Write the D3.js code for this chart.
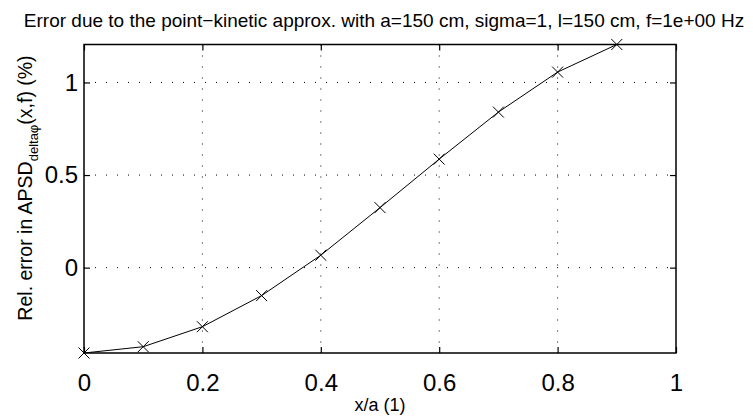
<!DOCTYPE html>
<html>
<head>
<meta charset="utf-8">
<script src="https://cdnjs.cloudflare.com/ajax/libs/d3/7.8.5/d3.min.js"></script>
<style>
  body { margin: 0; background: #fff; }
  text { font-family: "Liberation Sans", Arial, Helvetica, sans-serif; fill: #000; }
</style>
</head>
<body>
<div id="chart"></div>
<script>
  // data
  var xValues = [0, 0.1, 0.2, 0.3, 0.4, 0.5, 0.6, 0.7, 0.8, 0.9];
  var errValues = [-0.461, -0.427, -0.319, -0.151, 0.067, 0.324, 0.586, 0.840, 1.056, 1.205];
  var xTicks = [0, 0.2, 0.4, 0.6, 0.8, 1];
  var yTicks = [0, 0.5, 1];

  // set the dimensions and margins of the graph
  var margin = {top: 44.5, right: 77, bottom: 64, left: 84},
      width = 753 - margin.left - margin.right,
      height = 417 - margin.top - margin.bottom;

  var svg = d3.select("#chart")
    .append("svg")
      .attr("width", 753)
      .attr("height", 417);

  var g = svg.append("g")
      .attr("transform", "translate(" + margin.left + "," + margin.top + ")");

  var x = d3.scaleLinear()
    .domain([0, 1])
    .range([0, width]);

  // matlab "axis tight" on y
  var y = d3.scaleLinear()
    .domain(d3.extent(errValues))
    .range([height, 0]);

  // dotted grid
  g.selectAll(".vgrid")
    .data(xTicks.slice(1, -1))
    .enter().append("line")
      .attr("x1", d => x(d)).attr("x2", d => x(d))
      .attr("y1", 0).attr("y2", height)
      .attr("stroke", "#000")
      .attr("stroke-width", 1)
      .attr("stroke-dasharray", "1,10");

  g.selectAll(".hgrid")
    .data(yTicks)
    .enter().append("line")
      .attr("x1", 0).attr("x2", width)
      .attr("y1", d => y(d)).attr("y2", d => y(d))
      .attr("stroke", "#000")
      .attr("stroke-width", 1)
      .attr("stroke-dasharray", "1,10");

  // axes with inward ticks, labels only left/bottom
  var xAxis = d3.axisBottom(x).tickValues(xTicks).tickSize(-6).tickPadding(21)
    .tickFormat(d3.format("~g"));
  var yAxis = d3.axisLeft(y).tickValues(yTicks).tickSize(-6).tickPadding(6)
    .tickFormat(d3.format("~g"));

  var gx = g.append("g")
    .attr("transform", "translate(0," + height + ")")
    .call(xAxis);
  var gy = g.append("g").call(yAxis);

  g.append("g").call(d3.axisTop(x).tickValues(xTicks).tickSize(-6).tickFormat(""));
  g.append("g").attr("transform", "translate(" + width + ",0)")
    .call(d3.axisRight(y).tickValues(yTicks).tickSize(-6).tickFormat(""));

  g.selectAll(".domain").remove();
  g.selectAll(".tick line").attr("stroke", "#000").attr("stroke-width", 1.2);
  g.selectAll(".tick text").style("font-size", "24px");

  // box
  g.append("rect")
    .attr("width", width)
    .attr("height", height)
    .attr("fill", "none")
    .attr("stroke", "#000")
    .attr("stroke-width", 1.5);

  // the curve
  var pts = xValues.map((d, i) => [d, errValues[i]]);
  g.append("path")
    .datum(pts)
    .attr("fill", "none")
    .attr("stroke", "#000")
    .attr("stroke-width", 1)
    .attr("d", d3.line().x(d => x(d[0])).y(d => y(d[1])));

  // x markers
  var s = 5.5;
  g.selectAll(".marker")
    .data(pts)
    .enter().append("path")
      .attr("fill", "none")
      .attr("stroke", "#000")
      .attr("stroke-width", 1)
      .attr("d", d => {
        var cx = x(d[0]), cy = y(d[1]);
        return "M" + (cx - s) + "," + (cy - s) + "L" + (cx + s) + "," + (cy + s) +
               "M" + (cx - s) + "," + (cy + s) + "L" + (cx + s) + "," + (cy - s);
      });

  // title
  svg.append("text")
    .attr("x", 384)
    .attr("y", 27)
    .attr("text-anchor", "middle")
    .style("font-size", "19px")
    .text("Error due to the point\u2212kinetic approx. with a=150 cm, sigma=1, l=150 cm, f=1e+00 Hz");

  // x label
  svg.append("text")
    .attr("x", margin.left + width / 2)
    .attr("y", 411)
    .attr("text-anchor", "middle")
    .style("font-size", "18px")
    .text("x/a (1)");

  // y label with subscript
  var yl = svg.append("text")
    .attr("transform", "translate(32,188) rotate(-90)")
    .attr("text-anchor", "middle")
    .style("font-size", "19.5px");
  yl.append("tspan").text("Rel. error in APSD");
  yl.append("tspan").attr("dy", 6).style("font-size", "13px").text("delta\u03c6");
  yl.append("tspan").attr("dy", -6).text("(x,f) (%)");
</script>
</body>
</html>
